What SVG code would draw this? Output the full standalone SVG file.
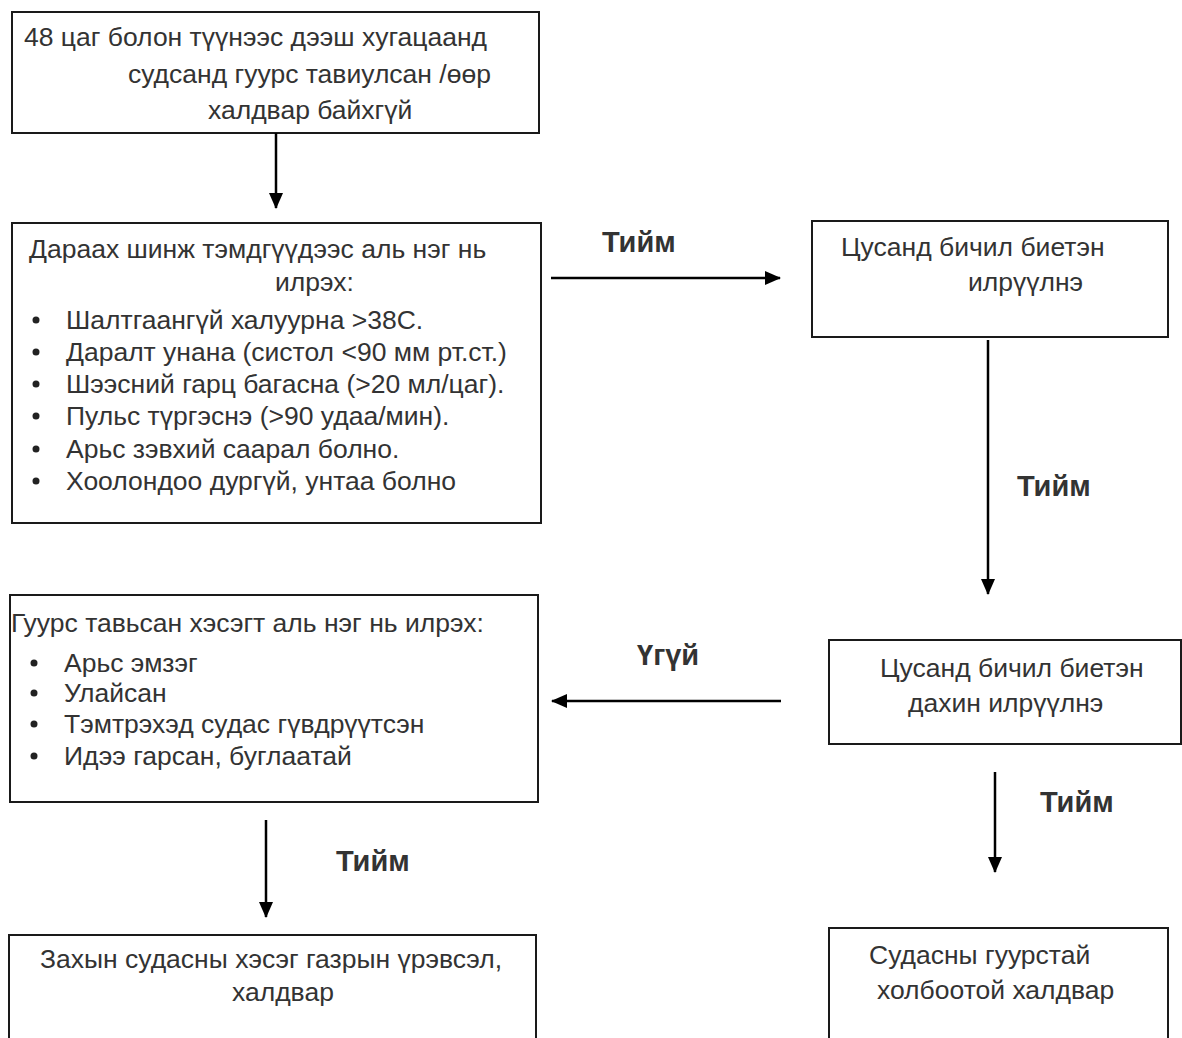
<svg xmlns="http://www.w3.org/2000/svg" width="1182" height="1038" viewBox="0 0 1182 1038">
<defs>
<style>
.box{fill:#fff;stroke:#1a1a1a;stroke-width:2}
.t{font-family:"Liberation Sans",Arial,sans-serif;font-size:26.5px;fill:#333}
.lbl{font-family:"Liberation Sans",Arial,sans-serif;font-size:29px;font-weight:bold;fill:#333}
.ln{stroke:#000;stroke-width:2.5;fill:none}
.dot{fill:#222}
</style>
<marker id="ah" viewBox="0 0 16 14" refX="15" refY="7" markerWidth="16" markerHeight="14" orient="auto" markerUnits="userSpaceOnUse">
<path d="M0,0 L16,7 L0,14 z" fill="#000"/>
</marker>
</defs>
<rect width="1182" height="1038" fill="#fff"/>
<g id="n1">
<rect class="box" x="12" y="12" width="527" height="121"/>
<text class="t" x="24" y="46">48 цаг болон түүнээс дээш хугацаанд</text>
<text class="t" x="128" y="83">судсанд гуурс тавиулсан /өөр</text>
<text class="t" x="208" y="119">халдвар байхгүй</text>
</g>
<g id="n2">
<rect class="box" x="12" y="223" width="529" height="300"/>
<text class="t" x="29" y="258">Дараах шинж тэмдгүүдээс аль нэг нь</text>
<text class="t" x="275" y="291">илрэх:</text>
<circle class="dot" cx="36" cy="320" r="3.5"/><text class="t" x="66" y="329">Шалтгаангүй халуурна &gt;38С.</text>
<circle class="dot" cx="36" cy="352" r="3.5"/><text class="t" x="66" y="361">Даралт унана (систол &lt;90 мм рт.ст.)</text>
<circle class="dot" cx="36" cy="384" r="3.5"/><text class="t" x="66" y="393">Шээсний гарц багасна (&gt;20 мл/цаг).</text>
<circle class="dot" cx="36" cy="416" r="3.5"/><text class="t" x="66" y="425">Пульс түргэснэ (&gt;90 удаа/мин).</text>
<circle class="dot" cx="36" cy="449" r="3.5"/><text class="t" x="66" y="458">Арьс зэвхий саарал болно.</text>
<circle class="dot" cx="36" cy="481" r="3.5"/><text class="t" x="66" y="490">Хоолондоо дургүй, унтаа болно</text>
</g>
<g id="n3">
<rect class="box" x="812" y="221" width="356" height="116"/>
<text class="t" x="841" y="256">Цусанд бичил биетэн</text>
<text class="t" x="968" y="291">илрүүлнэ</text>
</g>
<g id="n4">
<rect class="box" x="10" y="595" width="528" height="207"/>
<text class="t" x="11" y="632">Гуурс тавьсан хэсэгт аль нэг нь илрэх:</text>
<circle class="dot" cx="34" cy="663" r="3.5"/><text class="t" x="64" y="672">Арьс эмзэг</text>
<circle class="dot" cx="34" cy="693" r="3.5"/><text class="t" x="64" y="702">Улайсан</text>
<circle class="dot" cx="34" cy="724" r="3.5"/><text class="t" x="64" y="733">Тэмтрэхэд судас гүвдрүүтсэн</text>
<circle class="dot" cx="34" cy="756" r="3.5"/><text class="t" x="64" y="765">Идээ гарсан, буглаатай</text>
</g>
<g id="n5">
<rect class="box" x="829" y="640" width="352" height="104"/>
<text class="t" x="880" y="677">Цусанд бичил биетэн</text>
<text class="t" x="908" y="712">дахин илрүүлнэ</text>
</g>
<g id="n6">
<rect class="box" x="9" y="935" width="527" height="110"/>
<text class="t" x="40" y="968">Захын судасны хэсэг газрын үрэвсэл,</text>
<text class="t" x="232" y="1001">халдвар</text>
</g>
<g id="n7">
<rect class="box" x="829" y="928" width="339" height="117"/>
<text class="t" x="869" y="964">Судасны гуурстай</text>
<text class="t" x="877" y="999">холбоотой халдвар</text>
</g>
<g id="connectors">
<line class="ln" x1="276" y1="133" x2="276" y2="208" marker-end="url(#ah)"/>
<line class="ln" x1="551" y1="278" x2="780" y2="278" marker-end="url(#ah)"/>
<text class="lbl" x="602" y="252">Тийм</text>
<line class="ln" x1="988" y1="340" x2="988" y2="594" marker-end="url(#ah)"/>
<text class="lbl" x="1017" y="496">Тийм</text>
<line class="ln" x1="781" y1="701" x2="552" y2="701" marker-end="url(#ah)"/>
<text class="lbl" x="637" y="665">Үгүй</text>
<line class="ln" x1="995" y1="772" x2="995" y2="872" marker-end="url(#ah)"/>
<text class="lbl" x="1040" y="812">Тийм</text>
<line class="ln" x1="266" y1="820" x2="266" y2="917" marker-end="url(#ah)"/>
<text class="lbl" x="336" y="871">Тийм</text>
</g>
</svg>
